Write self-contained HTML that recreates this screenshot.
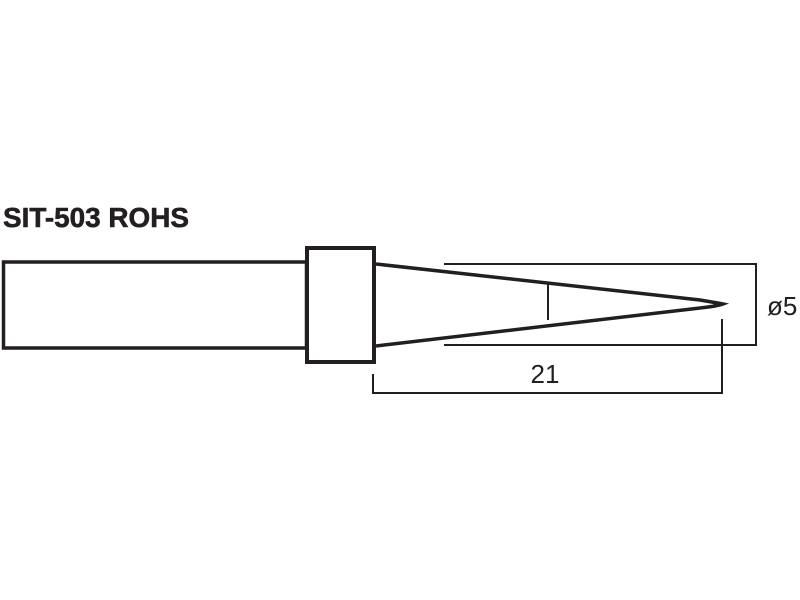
<!DOCTYPE html>
<html><head><style>
html,body{margin:0;padding:0;background:#fff;width:800px;height:600px;overflow:hidden}
</style></head><body>
<svg width="800" height="600" xmlns="http://www.w3.org/2000/svg">
<rect width="800" height="600" fill="#fff"/>
<text x="3" y="227" font-family="Liberation Sans, sans-serif" font-weight="bold" font-size="28" fill="#231f20" stroke="#231f20" stroke-width="0.6" textLength="186" lengthAdjust="spacingAndGlyphs">SIT-503 ROHS</text>
<g fill="none" stroke="#231f20">
<rect x="3.5" y="262" width="303" height="86" stroke-width="3.5"/>
<rect x="307" y="248" width="67" height="114" stroke-width="4"/>
<path d="M376 264 L700 300 Q718 303 723 304 Q718 306 700 308 L376 346" stroke-width="3.5"/>
<path d="M444 264 H756 V345 H444" stroke-width="2"/>
<line x1="548" y1="284" x2="548" y2="320" stroke-width="2"/>
<path d="M373 374 V393 H722 V319" stroke-width="2"/>
</g>
<text x="767" y="315" font-family="Liberation Sans, sans-serif" font-size="26" fill="#231f20">ø5</text>
<text x="545" y="383" text-anchor="middle" font-family="Liberation Sans, sans-serif" font-size="26" fill="#231f20">21</text>
</svg>
</body></html>
